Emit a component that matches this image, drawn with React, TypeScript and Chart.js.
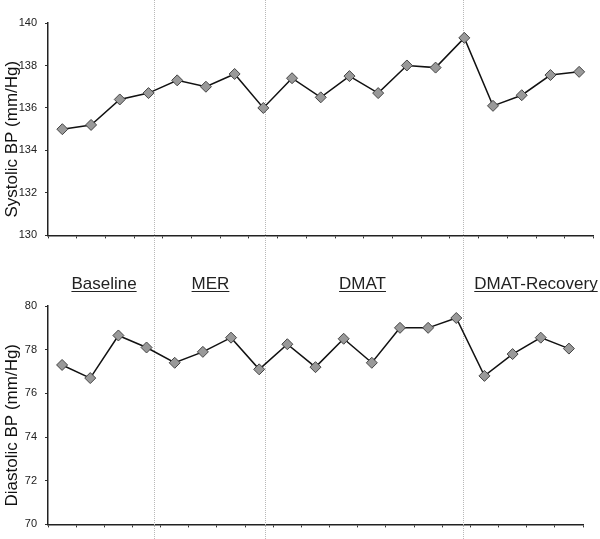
import React, { useEffect, useRef } from "react";
import { Chart, registerables } from "chart.js";

Chart.register(...registerables);

const timepoints = ["1","2","3","4","5","6","7","8","9","10","11","12","13","14","15","16","17","18","19"];
const systolic = [135.0, 135.2, 136.4, 136.7, 137.3, 137.0, 137.6, 136.0, 137.4, 136.5, 137.5, 136.7, 138.0, 137.9, 139.3, 136.1, 136.6, 137.55, 137.7];
const diastolic = [77.3, 76.7, 78.65, 78.1, 77.4, 77.9, 78.55, 77.1, 78.25, 77.2, 78.5, 77.4, 79.0, 79.0, 79.45, 76.8, 77.8, 78.55, 78.05];
const phaseBoundaries = [3.18, 7.07, 13.95];
const phaseNames = ["Baseline", "MER", "DMAT", "DMAT-Recovery"];
const phaseLabelAt = [1.49, 5.27, 10.67, 16.83];
const systolicTitle = "Systolic BP (mm/Hg)";
const diastolicTitle = "Diastolic BP (mm/Hg)";

const FONT = "'Liberation Sans', Arial, sans-serif";

function makeOptions(min: number, max: number, padRight: number, padTop: number, xHeight: number): any {
  return {
    responsive: false,
    animation: false,
    layout: { padding: { left: 0, right: padRight, top: padTop, bottom: 0 } },
    plugins: { legend: { display: false }, tooltip: { enabled: false } },
    scales: {
      x: {
        type: "category",
        offset: true,
        grid: { display: true, offset: true, drawOnChartArea: false, drawTicks: true, tickLength: 3, color: "#333", lineWidth: 1 },
        border: { display: true, color: "#222", width: 1.5 },
        ticks: { display: false },
        afterFit: (s: any) => { s.height = xHeight; },
      },
      y: {
        min, max,
        ticks: { stepSize: 2, color: "#222", padding: 8, font: { family: FONT, size: 11 } },
        grid: { display: true, drawOnChartArea: false, drawTicks: true, tickLength: 3, color: "#333" },
        border: { display: true, color: "#222", width: 1.5 },
        title: { display: false },
        afterFit: (s: any) => { s.width = 48; },
      },
    },
  };
}

function dataset(values: number[]) {
  return {
    data: values,
    borderColor: "#111",
    borderWidth: 1.5,
    pointStyle: "rectRot",
    pointRadius: 5.5,
    pointBackgroundColor: "#999999",
    pointBorderColor: "#444",
    pointBorderWidth: 1,
    tension: 0,
    clip: false,
  };
}

function drawLines(chart: any, xs: number[]) {
  const ctx = chart.ctx;
  ctx.save();
  ctx.strokeStyle = "#b8b8b8";
  ctx.lineWidth = 1;
  ctx.setLineDash([1, 1]);
  xs.forEach((x) => {
    const px = Math.round(x) + 0.5;
    ctx.beginPath();
    ctx.moveTo(px, 0);
    ctx.lineTo(px, chart.height);
    ctx.stroke();
  });
  ctx.restore();
}

function drawYTitle(chart: any, text: string) {
  const ctx = chart.ctx;
  const a = chart.chartArea;
  ctx.save();
  ctx.translate(12, (a.top + a.bottom) / 2 + 10);
  ctx.rotate(-Math.PI / 2);
  ctx.font = `17px ${FONT}`;
  ctx.fillStyle = "#111";
  ctx.textAlign = "center";
  ctx.textBaseline = "middle";
  ctx.fillText(text, 0, 0);
  ctx.restore();
}

export default function App() {
  const topRef = useRef<HTMLCanvasElement>(null);
  const botRef = useRef<HTMLCanvasElement>(null);

  useEffect(() => {
    let topChart: any = null;
    const topPlugin = {
      id: "phaseLinesTop",
      beforeDatasetsDraw(chart: any) {
        const sx = chart.scales.x;
        drawLines(chart, phaseBoundaries.map((b) => sx.getPixelForValue(b)));
      },
      afterDraw(chart: any) {
        drawYTitle(chart, systolicTitle);
      },
    };
    topChart = new Chart(topRef.current as HTMLCanvasElement, {
      type: "line",
      data: { labels: timepoints, datasets: [dataset(systolic) as any] },
      options: makeOptions(130, 140, 5, 23, 8),
      plugins: [topPlugin],
    });

    const botPlugin = {
      id: "phaseLinesBottom",
      beforeDatasetsDraw(chart: any) {
        const ref = topChart ? topChart.scales.x : chart.scales.x;
        drawLines(chart, phaseBoundaries.map((b) => ref.getPixelForValue(b)));
      },
      afterDraw(chart: any) {
        drawYTitle(chart, diastolicTitle);
        const ctx = chart.ctx;
        const sx = chart.scales.x;
        ctx.save();
        ctx.font = `17px ${FONT}`;
        ctx.fillStyle = "#222";
        ctx.strokeStyle = "#222";
        ctx.textAlign = "center";
        ctx.textBaseline = "alphabetic";
        ctx.lineWidth = 1;
        phaseNames.forEach((name, i) => {
          const cx = sx.getPixelForValue(phaseLabelAt[i]);
          const y = 39;
          ctx.fillText(name, cx, y);
          const w = ctx.measureText(name).width;
          ctx.beginPath();
          ctx.moveTo(cx - w / 2, y + 2.5);
          ctx.lineTo(cx + w / 2, y + 2.5);
          ctx.stroke();
        });
        ctx.restore();
      },
    };
    const botChart = new Chart(botRef.current as HTMLCanvasElement, {
      type: "line",
      data: { labels: timepoints, datasets: [dataset(diastolic) as any] },
      options: makeOptions(70, 80, 17, 56, 4),
      plugins: [botPlugin],
    });

    return () => {
      topChart.destroy();
      botChart.destroy();
    };
  }, []);

  return (
    <div style={{ position: "absolute", left: 0, top: 0, width: 600, height: 539, background: "#fff" }}>
      <canvas ref={topRef} width={600} height={250} style={{ display: "block", width: 600, height: 250 }} />
      <canvas ref={botRef} width={600} height={289} style={{ display: "block", width: 600, height: 289 }} />
    </div>
  );
}
